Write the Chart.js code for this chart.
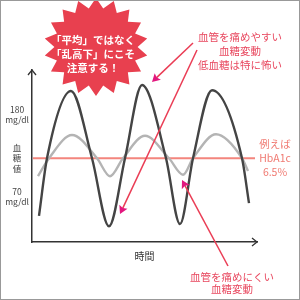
<!DOCTYPE html>
<html>
<head>
<meta charset="utf-8">
<script src="https://cdn.jsdelivr.net/npm/chart.js@4/dist/chart.umd.min.js"></script>
<style>
body{margin:0;background:#fff}
</style>
</head>
<body>
<canvas id="chart" width="300" height="300"></canvas>
<script>
// values (x = time, y = blood glucose)
const wideTime=[7,15,39,60,77,93,110,134,148,161,180,210,217]
const wideGlucose=[45,122,212,122,31,122,220,122,34,122,213,122,62]
const narrowTime=[6,17,40,65,78,91,113,137,151,161,184,210,216]
const narrowGlucose=[98,122,153,122,98,122,152,122,100,122,154,122,105]
const hba1cLevel=122
const hba1cSpan=[1,223]
const tickValues=[70,122,180]
const tickLabels=[["70","mg/dl"],["血","糖","値"],["180","mg/dl"]]
const xTitle="時間"

const burstLines=["「平均」ではなく","「乱高下」にこそ","注意する！"]
const riskLines=["血管を痛めやすい","血糖変動","低血糖は特に怖い"]
const safeLines=["血管を痛めにくい","血糖変動"]
const hbaLines=["例えば","HbA1c","6.5%"]

const jp='"Noto Sans CJK JP", "Noto Sans", sans-serif'

function toPoints(xs,ys){
return xs.map((x,i)=>({x:x,y:ys[i]}))
}

function arrow(ctx,x1,y1,x2,y2){
const a=Math.atan2(y2-y1,x2-x1)
const bx=x2-8*Math.cos(a)
const by=y2-8*Math.sin(a)
ctx.strokeStyle='#ea3d55'
ctx.lineWidth=1.5
ctx.beginPath()
ctx.moveTo(x1,y1)
ctx.lineTo(bx+2*Math.cos(a),by+2*Math.sin(a))
ctx.stroke()
ctx.fillStyle='#e2177e'
ctx.beginPath()
ctx.moveTo(x2,y2)
ctx.lineTo(bx-4.5*Math.sin(a),by+4.5*Math.cos(a))
ctx.lineTo(bx+1.5*Math.cos(a),by+1.5*Math.sin(a))
ctx.lineTo(bx+4.5*Math.sin(a),by-4.5*Math.cos(a))
ctx.closePath()
ctx.fill()
}

function lines(ctx,arr,x,y,step){
arr.forEach((t,i)=>ctx.fillText(t,x,y+i*step))
}

const decor={
id:'decor',
afterDraw(chart){
const ctx=chart.ctx
const area=chart.chartArea
ctx.save()

// axis arrow heads
ctx.strokeStyle='#333'
ctx.lineWidth=1.3
ctx.beginPath()
ctx.moveTo(area.left-4,area.top+5)
ctx.lineTo(area.left,area.top)
ctx.lineTo(area.left+4,area.top+5)
ctx.moveTo(area.right-5,area.bottom-4)
ctx.lineTo(area.right,area.bottom)
ctx.lineTo(area.right-5,area.bottom+4)
ctx.stroke()

// starburst
const cx=96,cy=47,rx=52,ry=49
ctx.fillStyle='#e8404f'
ctx.beginPath()
for(let i=0;i<36;i++){
const ang=-Math.PI/2+i*Math.PI/18
const r=i%2?0.8:1
ctx.lineTo(cx+rx*r*Math.cos(ang),cy+ry*r*Math.sin(ang))
}
ctx.closePath()
ctx.fill()

ctx.textAlign='center'
ctx.textBaseline='middle'
ctx.fillStyle='#fff'
ctx.font='bold 10.5px '+jp
lines(ctx,burstLines,93,40,14)

ctx.font='10.5px '+jp
ctx.fillStyle='#e8475e'
lines(ctx,riskLines,240,37,14)
lines(ctx,safeLines,232,277,12)

ctx.fillStyle='#f07a72'
lines(ctx,hbaLines,275,144,14)

arrow(ctx,193,43,152,82)
arrow(ctx,197,50,120,214)
arrow(ctx,228,266,182,180)

// frame
ctx.strokeStyle='#999'
ctx.lineWidth=1
ctx.strokeRect(0.5,0.5,299,299)
ctx.restore()
}
}

new Chart(document.getElementById('chart'),{
type:'line',
data:{
datasets:[
{
data:toPoints(wideTime,wideGlucose),
borderColor:'#444',
borderWidth:2.4,
cubicInterpolationMode:'monotone',
pointRadius:0,
order:1
},
{
data:toPoints(narrowTime,narrowGlucose),
borderColor:'#b4b4b4',
borderWidth:2.4,
cubicInterpolationMode:'monotone',
pointRadius:0,
order:2
},
{
data:hba1cSpan.map(x=>({x:x,y:hba1cLevel})),
borderColor:'#f3857d',
borderWidth:2,
pointRadius:0,
order:3
}
]
},
options:{
responsive:false,
animation:false,
devicePixelRatio:1,
layout:{padding:{top:70,right:43,bottom:0,left:0}},
plugins:{legend:{display:false},tooltip:{enabled:false}},
scales:{
x:{
type:'linear',
min:0,
max:225,
grid:{display:false,drawTicks:false},
border:{display:true,color:'#333',width:1.5},
ticks:{display:false},
title:{display:true,text:xTitle,color:'#333',font:{family:jp,size:10},padding:{top:0,bottom:38}},
afterFit(scale){scale.height=58}
},
y:{
min:10,
max:240,
grid:{display:false,drawTicks:false},
border:{display:true,color:'#333',width:1.5},
afterBuildTicks(scale){scale.ticks=tickValues.map(v=>({value:v}))},
afterFit(scale){scale.width=32},
ticks:{
crossAlign:'center',
padding:3,
color:'#444',
font:{family:jp,size:8.5,lineHeight:1.2},
callback(value){return tickLabels[tickValues.indexOf(value)]}
}
}
}
},
plugins:[decor]
})
</script>
</body>
</html>
